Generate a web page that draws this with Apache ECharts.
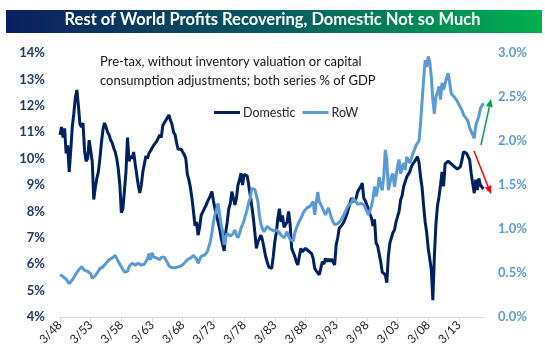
<!DOCTYPE html>
<html>
<head>
<meta charset="utf-8">
<script src="https://cdn.jsdelivr.net/npm/echarts@6/dist/echarts.min.js"></script>
<style>
html,body{margin:0;padding:0;background:#fff;}
#c{width:545px;height:359px;}
</style>
</head>
<body>
<div id="c"></div>
<script>
// ---- data ----
const startYear = 1948;
const quarterMonths = [3, 6, 9, 12];
const categoryCount = 278; // 3/48 ... 6/17
const tickLabels = ['3/48','3/53','3/58','3/63','3/68','3/73','3/78','3/83','3/88','3/93','3/98','3/03','3/08','3/13'];
const leftTicks = [4, 14, 1];      // min, max, interval (% of GDP)
const rightTicks = [0, 3, 0.5];    // min, max, interval (% of GDP)

// Domestic profits, % of GDP (quarterly, 1948Q1 - 2017Q1)
const domestic = [
  10.9, 11.2, 10.8, 11.15,   // 1948
  10.2, 10.5, 9.5, 10.3,     // 1949
  11.2, 11.7, 12.3, 12.6,    // 1950
  12.0, 11.3, 11.2, 11.35,   // 1951
  10.3, 9.9, 10.0, 10.7,     // 1952
  10.65, 9.9, 8.45, 8.9,     // 1953
  9.25, 9.5, 10.0, 10.6,     // 1954
  11.1, 11.35, 11.2, 11.0,   // 1955
  10.9, 10.7, 10.6, 10.4,    // 1956
  10.25, 10.0, 9.6, 9.0,     // 1957
  7.95, 8.1, 8.8, 9.5,       // 1958
  10.8, 9.9, 10.1, 10.0,     // 1959
  10.25, 9.8, 9.4, 9.0,      // 1960
  8.7, 9.0, 9.5, 9.8,        // 1961
  10.1, 10.0, 10.2, 10.3,    // 1962
  10.4, 10.5, 10.5, 10.65,   // 1963
  10.6, 10.9, 10.8, 11.25,   // 1964
  11.3, 11.45, 11.5, 11.65,  // 1965
  11.45, 11.3, 11.0, 10.9,   // 1966
  10.6, 10.35, 10.3, 10.35,  // 1967
  10.3, 10.15, 10.0, 9.4,    // 1968
  9.2, 8.9, 8.5, 8.0,        // 1969
  7.45, 7.6, 7.1, 7.4,       // 1970
  7.85, 7.9, 8.1, 8.2,       // 1971
  8.35, 8.4, 8.6, 8.75,      // 1972
  8.4, 8.1, 7.85, 7.6,       // 1973
  7.35, 7.0, 6.75, 6.5,      // 1974
  7.2, 7.6, 8.1, 8.3,        // 1975
  8.75, 8.5, 8.25, 8.5,      // 1976
  9.0, 9.2, 9.45, 9.0,       // 1977
  9.4, 9.35, 9.35, 9.0,      // 1978
  8.6, 8.2, 7.75, 7.2,       // 1979
  6.6, 6.85, 6.9, 7.1,       // 1980
  6.9, 6.6, 6.3, 6.1,        // 1981
  5.9, 5.85, 5.84, 6.3,      // 1982
  6.85, 7.2, 7.75, 8.1,      // 1983
  7.6, 7.85, 7.4, 7.4,       // 1984
  7.6, 8.0, 7.5, 6.6,        // 1985
  6.6, 6.3, 6.1, 5.97,       // 1986
  6.3, 6.6, 6.47, 6.5,       // 1987
  6.6, 6.6, 6.5, 6.53,       // 1988
  6.4, 6.22, 5.84, 5.75,     // 1989
  5.72, 5.6, 5.53, 6.1,      // 1990
  6.0, 6.22, 6.1, 6.2,       // 1991
  6.1, 6.2, 6.22, 5.97,      // 1992
  6.73, 7.0, 7.36, 7.4,      // 1993
  7.5, 7.6, 7.74, 7.9,       // 1994
  8.1, 8.3, 8.5, 8.45,       // 1995
  8.37, 8.5, 8.75, 8.8,      // 1996
  8.94, 9.07, 8.5, 8.4,      // 1997
  8.24, 8.1, 7.9, 7.75,      // 1998
  7.45, 7.7, 6.8, 6.7,       // 1999
  6.4, 6.1, 5.7, 5.65,       // 2000
  5.6, 5.3, 6.3, 6.8,        // 2001
  7.0, 7.2, 7.3, 7.6,        // 2002
  7.8, 8.0, 8.43, 8.6,       // 2003
  8.94, 9.0, 9.3, 9.35,      // 2004
  9.5, 9.69, 9.8, 9.88,      // 2005
  9.95, 10.07, 9.85, 9.3,    // 2006
  8.9, 8.2, 7.6, 7.2,        // 2007
  6.6, 6.2, 5.8, 4.64,       // 2008
  6.3, 7.5, 8.2, 8.55,       // 2009
  9.0, 9.5, 8.95, 9.8,       // 2010
  9.82, 9.9, 9.95, 9.8,      // 2011
  9.76, 9.7, 9.76, 9.6,      // 2012
  9.63, 9.7, 9.95, 10.26,    // 2013
  10.26, 10.2, 10.2, 9.95,   // 2014
  9.44, 9.06, 8.69, 9.2,     // 2015
  8.81, 9.25, 9.0, 9.06,     // 2016
  8.85                       // 2017
];

// Rest of World profits, % of GDP (quarterly, 1948Q1 - 2017Q1)
const row = [
  0.48, 0.47, 0.46, 0.44,   // 1948
  0.43, 0.41, 0.38, 0.39,   // 1949
  0.42, 0.45, 0.48, 0.50,   // 1950
  0.53, 0.55, 0.57, 0.56,   // 1951
  0.53, 0.51, 0.52, 0.50,   // 1952
  0.49, 0.44, 0.45, 0.47,   // 1953
  0.48, 0.52, 0.55, 0.56,   // 1954
  0.57, 0.59, 0.61, 0.62,   // 1955
  0.65, 0.64, 0.67, 0.68,   // 1956
  0.70, 0.69, 0.63, 0.60,   // 1957
  0.57, 0.54, 0.51, 0.50,   // 1958
  0.52, 0.57, 0.59, 0.61,   // 1959
  0.60, 0.59, 0.60, 0.61,   // 1960
  0.61, 0.59, 0.57, 0.60,   // 1961
  0.63, 0.66, 0.72, 0.65,   // 1962
  0.73, 0.68, 0.66, 0.67,   // 1963
  0.67, 0.65, 0.68, 0.67,   // 1964
  0.68, 0.66, 0.62, 0.58,   // 1965
  0.57, 0.56, 0.55, 0.56,   // 1966
  0.55, 0.57, 0.59, 0.58,   // 1967
  0.59, 0.61, 0.62, 0.65,   // 1968
  0.66, 0.67, 0.69, 0.70,   // 1969
  0.70, 0.66, 0.61, 0.65,   // 1970
  0.69, 0.68, 0.70, 0.72,   // 1971
  0.74, 0.80, 0.86, 0.95,   // 1972
  1.08, 1.16, 1.22, 1.29,   // 1973
  1.18, 1.05, 0.97, 0.82,   // 1974
  0.90, 0.95, 0.97, 0.92,   // 1975
  0.90, 0.95, 0.99, 0.93,   // 1976
  0.90, 0.95, 1.01, 1.05,   // 1977
  1.10, 1.16, 1.22, 1.30,   // 1978
  1.35, 1.46, 1.44, 1.45,   // 1979
  1.44, 1.31, 1.15, 1.05,   // 1980
  1.00, 0.97, 1.00, 1.03,   // 1981
  1.01, 1.00, 0.99, 0.98,   // 1982
  0.97, 0.99, 1.01, 0.96,   // 1983
  0.93, 0.92, 0.90, 0.93,   // 1984
  0.97, 0.92, 0.88, 0.86,   // 1985
  0.86, 0.95, 1.01, 1.05,   // 1986
  1.09, 1.12, 1.16, 1.20,   // 1987
  1.21, 1.24, 1.22, 1.26,   // 1988
  1.27, 1.31, 1.16, 1.30,   // 1989
  1.42, 1.31, 1.28, 1.24,   // 1990
  1.20, 1.16, 1.20, 1.24,   // 1991
  1.18, 1.12, 1.08, 1.05,   // 1992
  1.03, 1.06, 1.08, 1.10,   // 1993
  1.12, 1.16, 1.20, 1.24,   // 1994
  1.27, 1.29, 1.30, 1.35,   // 1995
  1.33, 1.31, 1.28, 1.27,   // 1996
  1.29, 1.31, 1.28, 1.24,   // 1997
  1.20, 1.16, 1.18, 1.26,   // 1998
  1.35, 1.48, 1.37, 1.45,   // 1999
  1.59, 1.50, 1.44, 1.59,   // 2000
  1.90, 1.79, 1.44, 1.52,   // 2001
  1.60, 1.63, 1.48, 1.60,   // 2002
  1.71, 1.79, 1.63, 1.70,   // 2003
  1.75, 1.67, 1.82, 1.78,   // 2004
  1.75, 1.80, 1.86, 1.90,   // 2005
  1.95, 1.97, 2.00, 2.20,   // 2006
  2.45, 2.70, 2.92, 2.84,   // 2007
  2.96, 2.90, 2.73, 2.47,   // 2008
  2.31, 2.50, 2.55, 2.62,   // 2009
  2.47, 2.66, 2.58, 2.65,   // 2010
  2.72, 2.77, 2.66, 2.54,   // 2011
  2.52, 2.50, 2.48, 2.45,   // 2012
  2.43, 2.38, 2.35, 2.30,   // 2013
  2.28, 2.25, 2.22, 2.15,   // 2014
  2.11, 2.13, 2.03, 2.18,   // 2015
  2.20, 2.28, 2.37, 2.40,   // 2016
  2.43                      // 2017
];

// ---- build ----
const categories = [];
for (let i = 0; i < categoryCount; i++) {
  const y = startYear + Math.floor(i / 4);
  categories.push(quarterMonths[i % 4] + '/' + String(y).slice(2));
}
const isTick = (idx, val) => tickLabels.indexOf(val) >= 0;
const FONT = 'Lato, "Open Sans", sans-serif';

function arrow(x1, y1, x2, y2, color) {
  const ang = Math.atan2(y2 - y1, x2 - x1);
  const L = 8, W = 3.5;
  const bx = x2 - L * Math.cos(ang), by = y2 - L * Math.sin(ang);
  const px = -Math.sin(ang) * W, py = Math.cos(ang) * W;
  return [
    { type: 'line', shape: { x1: x1, y1: y1, x2: bx, y2: by }, style: { stroke: color, lineWidth: 1.5 }, z: 10 },
    { type: 'polygon', shape: { points: [[x2, y2], [bx + px, by + py], [bx - px, by - py]] }, style: { fill: color }, z: 10 }
  ];
}

const chart = echarts.init(document.getElementById('c'), null, { renderer: 'canvas' });
chart.setOption({
  animation: false,
  backgroundColor: '#ffffff',
  textStyle: { fontFamily: FONT },
  grid: { left: 60, right: 60, top: 53, bottom: 42, containLabel: false },
  legend: {
    data: ['Domestic', 'RoW'],
    left: 209, top: 101,
    icon: 'rect', itemWidth: 26, itemHeight: 3, itemGap: 7,
    textStyle: { fontFamily: FONT, fontSize: 12.5, color: '#262626', padding: [0, 0, 0, -2] }
  },
  graphic: [
    {
      type: 'rect', left: 6, top: 10, z: 5,
      shape: { width: 536, height: 23 },
      style: {
        fill: new echarts.graphic.LinearGradient(0, 0, 1, 0, [
          { offset: 0, color: '#0c1f5f' },
          { offset: 0.5, color: '#075a5e' },
          { offset: 1, color: '#00b050' }
        ])
      }
    },
    {
      type: 'text', left: 'center', top: 11.5, z: 6,
      style: { text: 'Rest of World Profits Recovering, Domestic Not so Much', fill: '#ffffff', font: 'bold 16.5px ' + FONT }
    },
    {
      type: 'text', left: 100, top: 52, z: 6,
      style: {
        text: 'Pre-tax, without inventory valuation or capital\nconsumption adjustments; both series % of GDP',
        fill: '#141414', font: '13px ' + FONT, lineHeight: 19
      }
    }
  ].concat(arrow(481, 145, 491, 99, '#00a650')).concat(arrow(474, 151, 491, 194, '#ff0000')),
  xAxis: {
    type: 'category',
    data: categories,
    boundaryGap: false,
    axisLine: { show: true, lineStyle: { color: '#d9d9d9', width: 1 } },
    axisTick: { show: true, interval: isTick, length: 5, lineStyle: { color: '#d9d9d9' } },
    axisLabel: { interval: isTick, rotate: 45, fontSize: 12, color: '#1a1a1a', margin: 6, fontFamily: FONT },
    splitLine: { show: false }
  },
  yAxis: [
    {
      type: 'value', min: leftTicks[0], max: leftTicks[1], interval: leftTicks[2],
      axisLine: { show: false }, axisTick: { show: false }, splitLine: { show: false },
      axisLabel: { formatter: '{value}%', color: '#1f3864', fontWeight: 'bold', fontSize: 13, margin: 15, fontFamily: FONT }
    },
    {
      type: 'value', min: rightTicks[0], max: rightTicks[1], interval: rightTicks[2],
      axisLine: { show: false }, axisTick: { show: false }, splitLine: { show: false },
      axisLabel: { formatter: v => v.toFixed(1) + '%', color: '#5b9bd5', fontWeight: 'bold', fontSize: 13, margin: 13, fontFamily: FONT }
    }
  ],
  series: [
    {
      name: 'Domestic', type: 'line', yAxisIndex: 0, data: domestic,
      symbol: 'none', lineStyle: { color: '#002060', width: 3 }, itemStyle: { color: '#002060' }, z: 2
    },
    {
      name: 'RoW', type: 'line', yAxisIndex: 1, data: row,
      symbol: 'none', lineStyle: { color: '#5b9bd5', width: 3 }, itemStyle: { color: '#5b9bd5' }, z: 3
    }
  ]
});
</script>
</body>
</html>
